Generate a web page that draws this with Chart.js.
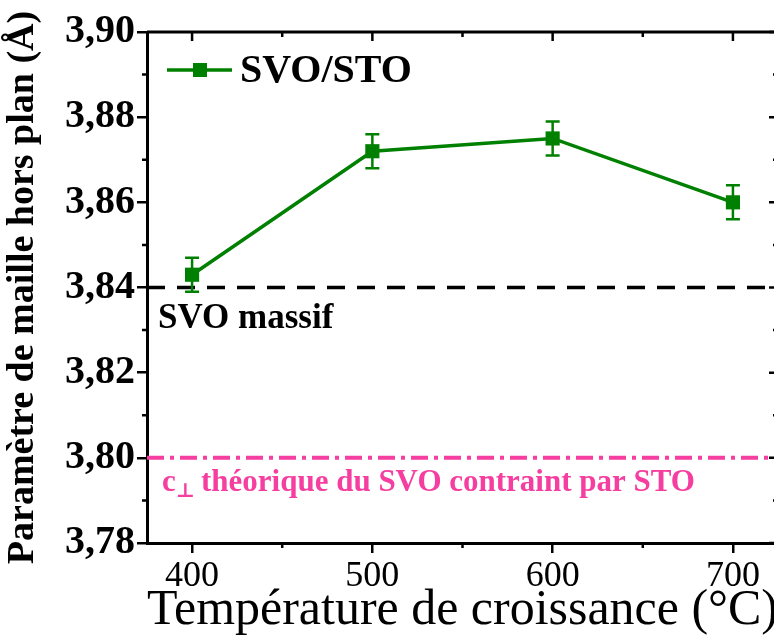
<!DOCTYPE html>
<html>
<head>
<meta charset="utf-8">
<script src="https://cdn.jsdelivr.net/npm/chart.js@4/dist/chart.umd.min.js"></script>
<style>
  html, body { margin: 0; padding: 0; background: #fff; overflow: hidden; }
</style>
</head>
<body>
<canvas id="grafica" width="790" height="641"></canvas>
<script>
// Données
const temperatures = [400, 500, 600, 700];
const parametre = [3.843, 3.872, 3.875, 3.860];
const erreur = [0.004, 0.004, 0.004, 0.004];
const svoMassif = 3.84;
const svoContraint = 3.80;
const xTicks = [400, 500, 600, 700];
const xMinor = [450, 550, 650];
const yTicks = [3.78, 3.80, 3.82, 3.84, 3.86, 3.88, 3.90];
const yMinor = [3.79, 3.81, 3.83, 3.85, 3.87, 3.89];
const xMin = 375, xMax = 725;

const vert = '#008000';
const rose = '#f53ea0';
const police = "'Liberation Serif', 'DejaVu Serif', serif";

// Cadre, ticks miroirs, barres d'erreur, légende et annotations
const decor = {
  id: 'decor',
  afterDatasetsDraw(chart) {
    const ctx = chart.ctx;
    const x = chart.scales.x, y = chart.scales.y;
    ctx.save();
    ctx.strokeStyle = vert;
    ctx.lineWidth = 2.5;
    temperatures.forEach((t, i) => {
      const px = x.getPixelForValue(t);
      const top = y.getPixelForValue(parametre[i] + erreur[i]);
      const bot = y.getPixelForValue(parametre[i] - erreur[i]);
      ctx.beginPath();
      ctx.moveTo(px, top); ctx.lineTo(px, bot);
      ctx.moveTo(px - 7, top); ctx.lineTo(px + 7, top);
      ctx.moveTo(px - 7, bot); ctx.lineTo(px + 7, bot);
      ctx.stroke();
    });
    ctx.restore();
  },
  afterDraw(chart) {
    const ctx = chart.ctx;
    const a = chart.chartArea;
    const x = chart.scales.x, y = chart.scales.y;
    ctx.save();
    ctx.strokeStyle = '#000';
    ctx.lineWidth = 3;
    ctx.beginPath();
    ctx.moveTo(a.left, a.top); ctx.lineTo(a.right, a.top);
    ctx.moveTo(a.right, a.top); ctx.lineTo(a.right, a.bottom);
    ctx.stroke();
    ctx.lineWidth = 2.5;
    ctx.beginPath();
    xTicks.forEach(v => {
      const px = x.getPixelForValue(v);
      ctx.moveTo(px, a.top); ctx.lineTo(px, a.top + 9);
    });
    xMinor.forEach(v => {
      const px = x.getPixelForValue(v);
      ctx.moveTo(px, a.top); ctx.lineTo(px, a.top + 5);
      ctx.moveTo(px, a.bottom); ctx.lineTo(px, a.bottom + 5);
    });
    yTicks.forEach(v => {
      const py = y.getPixelForValue(v);
      ctx.moveTo(a.right, py); ctx.lineTo(a.right - 9, py);
    });
    yMinor.forEach(v => {
      const py = y.getPixelForValue(v);
      ctx.moveTo(a.right, py); ctx.lineTo(a.right - 5, py);
      ctx.moveTo(a.left, py); ctx.lineTo(a.left - 5, py);
    });
    ctx.stroke();

    // légende
    const ly = 70;
    ctx.strokeStyle = vert;
    ctx.lineWidth = 3.5;
    ctx.beginPath();
    ctx.moveTo(167, ly); ctx.lineTo(232, ly);
    ctx.stroke();
    ctx.fillStyle = vert;
    ctx.fillRect(193, ly - 7, 14, 14);
    ctx.fillStyle = '#000';
    ctx.font = 'bold 40px ' + police;
    ctx.textBaseline = 'middle';
    ctx.fillText(chart.data.datasets[0].label, 240, ly + 2);

    // annotations
    ctx.textBaseline = 'alphabetic';
    ctx.font = 'bold 35px ' + police;
    ctx.fillStyle = '#000';
    ctx.fillText('SVO massif', 158, y.getPixelForValue(svoMassif) + 40);

    const by = y.getPixelForValue(svoContraint) + 33;
    ctx.fillStyle = rose;
    ctx.font = 'bold 31px ' + police;
    ctx.fillText('c', 162, by);
    let cx = 162 + ctx.measureText('c').width;
    ctx.font = 'bold 20px ' + police;
    ctx.fillText('\u22A5', cx, by + 6);
    cx += ctx.measureText('\u22A5').width + 6;
    ctx.font = 'bold 31px ' + police;
    ctx.fillText('théorique du SVO contraint par STO', cx, by);
    ctx.restore();
  }
};

new Chart(document.getElementById('grafica'), {
  type: 'line',
  data: {
    datasets: [
      {
        label: 'SVO/STO',
        data: temperatures.map((t, i) => ({ x: t, y: parametre[i] })),
        borderColor: vert,
        backgroundColor: vert,
        borderWidth: 3.5,
        pointStyle: 'rect',
        pointRadius: 10,
        pointBackgroundColor: vert,
        pointBorderWidth: 0,
        order: 0
      },
      {
        label: 'SVO massif',
        data: [{ x: xMin, y: svoMassif }, { x: xMax, y: svoMassif }],
        borderColor: '#000',
        borderWidth: 3.5,
        borderDash: [18, 12],
        pointRadius: 0,
        order: 1
      },
      {
        label: 'c théorique',
        data: [{ x: xMin, y: svoContraint }, { x: xMax, y: svoContraint }],
        borderColor: rose,
        borderWidth: 4,
        borderDash: [17, 6, 4, 6],
        pointRadius: 0,
        order: 1
      }
    ]
  },
  options: {
    responsive: false,
    animation: false,
    layout: { padding: { top: 32, right: 12, left: 0, bottom: 0 } },
    plugins: {
      legend: { display: false },
      tooltip: { enabled: false }
    },
    scales: {
      x: {
        type: 'linear',
        min: xMin,
        max: xMax,
        afterBuildTicks: s => { s.ticks = xTicks.map(v => ({ value: v })); },
        afterFit: s => { s.height = 98; },
        border: { display: true, color: '#000', width: 3 },
        grid: { drawOnChartArea: false, drawTicks: true, tickLength: 10, color: '#000', lineWidth: 2.5 },
        ticks: { color: '#000', font: { family: police, size: 36 }, padding: 2 },
        title: {
          display: true,
          text: 'Température de croissance (°C)',
          color: '#000',
          font: { family: police, size: 50 },
          padding: { top: 0, bottom: 0 }
        }
      },
      y: {
        min: 3.78,
        max: 3.90,
        afterBuildTicks: s => { s.ticks = yTicks.map(v => ({ value: v })); },
        afterFit: s => { s.width = 147; },
        border: { display: true, color: '#000', width: 3 },
        grid: { drawOnChartArea: false, drawTicks: true, tickLength: 10, color: '#000', lineWidth: 2.5 },
        ticks: {
          color: '#000',
          font: { family: police, size: 40, weight: 'bold' },
          padding: 2,
          callback: v => v.toFixed(2).replace('.', ',')
        },
        title: {
          display: true,
          text: 'Paramètre de maille hors plan (Å)',
          color: '#000',
          font: { family: police, size: 38, weight: 'bold' },
          padding: { top: 0, bottom: 0 }
        }
      }
    }
  },
  plugins: [decor]
});
</script>
</body>
</html>
